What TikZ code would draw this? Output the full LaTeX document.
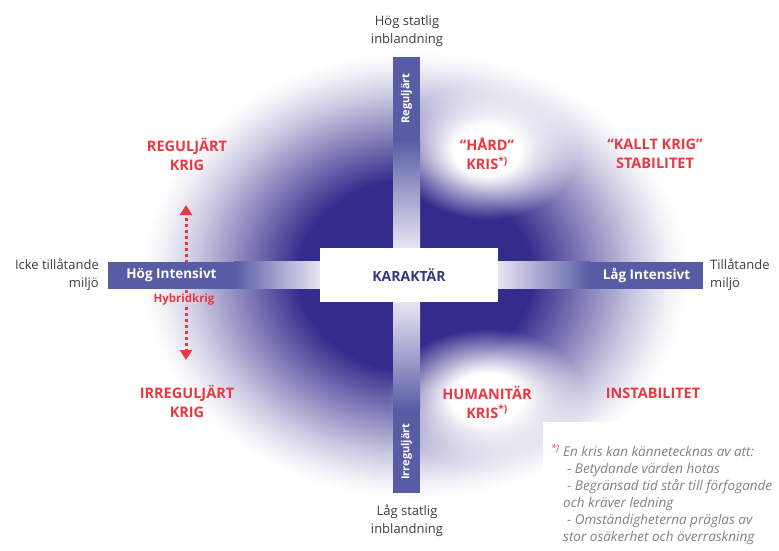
\documentclass[tikz,border=0pt]{standalone}
\usepackage{fontspec}
\setmainfont{Open Sans}
\usepackage{tikz}
\usetikzlibrary{positioning,arrows.meta,fadings}
\usepackage{xcolor}

\definecolor{cloudblue}{RGB}{52,44,140}
\definecolor{barblue}{RGB}{88,92,165}
\definecolor{barpale}{RGB}{232,230,243}
\definecolor{krigred}{RGB}{234,56,66}
\definecolor{axisgray}{RGB}{62,62,62}
\definecolor{notegray}{RGB}{130,130,130}
\definecolor{karblue}{RGB}{50,56,125}

\pgfdeclareradialshading{cloudshade}{\pgfpoint{0bp}{0bp}}{color(0bp)=(cloudblue); color(7.5bp)=(cloudblue); color(11.5bp)=(cloudblue!55!white); color(14.2bp)=(cloudblue!25!white); color(16.2bp)=(cloudblue!7!white); color(17.4bp)=(white); color(50bp)=(white)}
\pgfdeclareradialshading{spotshade}{\pgfpoint{0bp}{0bp}}{color(0bp)=(white); color(6bp)=(white); color(16.5bp)=(black); color(50bp)=(black)}
\tikzfading[name=spotfade, shading=spotshade]

\begin{document}
\begin{tikzpicture}[x=1pt, y=-1pt,
    bar/.style={fill=barblue, inner sep=0pt, text=white,
                font=\fontsize{13.5}{15}\selectfont\bfseries},
    barfade/.style={inner sep=0pt, draw=none},
    axislbl/.style={align=center, inner sep=0pt, text=axisgray,
                font=\fontsize{13}{18}\selectfont},
    krig/.style={align=center, inner sep=0pt, text=krigred,
                font=\fontsize{14.5}{19}\selectfont\bfseries},
    dotarr/.style={-{Triangle[length=10pt,width=12pt]}, krigred,
                line width=3pt, dash pattern=on 3pt off 3pt},
]
\useasboundingbox (0,0) rectangle (779,551);
\fill[white] (0,0) rectangle (779,551);

% ===== Background cloud =====
\shade[shading=cloudshade] (415,275) ellipse (390 and 320);
\fill[white, path fading=spotfade] (487,150) ellipse (140 and 105);
\fill[white, path fading=spotfade] (487,398) ellipse (150 and 105);

% ===== Hybrid arrow (behind the bar) =====
\node[font=\fontsize{11.5}{14}\selectfont\bfseries, text=krigred, inner sep=1pt] at (184,300) (hybrid) {Hybridkrig};
\coordinate (hybup) at (186,205);
\coordinate (hybdown) at (186,360);
\draw[dotarr] (hybup |- hybrid.north) -- (hybup);
\draw[dotarr] (hybdown |- hybrid.south) -- (hybdown);

% ===== Axis bars =====
\node[bar, minimum width=127, minimum height=27] at (171.5,275) (hogint) {Hög Intensivt};
\node[barfade, left color=barblue, middle color=barblue!35!barpale, right color=barpale,
      minimum width=86, minimum height=27] at (277,275) (hogfade) {};
\node[bar, minimum width=113, minimum height=27] at (646.5,275) (lagint) {Låg Intensivt};
\node[barfade, left color=barpale, middle color=barblue!35!barpale, right color=barblue,
      minimum width=93, minimum height=27] at (543.5,275) (lagfade) {};

\node[bar, rotate=90, minimum width=83, minimum height=27,
      font=\fontsize{11}{12}\selectfont\bfseries] at (406.5,98.5) (regbar) {Reguljärt};
\node[barfade, top color=barblue, middle color=barblue!35!barpale, bottom color=barpale,
      minimum width=27, minimum height=108] at (406.5,194) (regfade) {};
\node[bar, rotate=90, minimum width=83, minimum height=27,
      font=\fontsize{11}{12}\selectfont\bfseries] at (406.5,451.5) (irrbar) {Irreguljärt};
\node[barfade, top color=barpale, middle color=barblue!35!barpale, bottom color=barblue,
      minimum width=27, minimum height=108] at (406.5,356) (irrfade) {};

% ===== Centre box =====
\node[fill=white, minimum width=178, minimum height=54, text=karblue,
      font=\fontsize{14}{16}\selectfont\bfseries] at (409,275) (karak) {KARAKTÄR};

% ===== Axis end labels =====
\node[axislbl] at (407,31) (hogstat) {Hög statlig\\inblandning};
\node[axislbl] at (407,521) (lagstat) {Låg statlig\\inblandning};
\node[axislbl, align=right, anchor=east] at (99,275) (icke) {Icke tillåtande\\miljö};
\node[axislbl, align=left, anchor=west] at (710,275) (till) {Tillåtande\\miljö};

% ===== Quadrant labels =====
\node[krig] at (187,154) (regkrig) {REGULJÄRT\\KRIG};
\node[krig] at (187,401) (irrkrig) {IRREGULJÄRT\\KRIG};
\node[krig] at (487,154) (hard) {“HÅRD”\\KRIS\textsuperscript{*)}};
\node[krig] at (655,154) (kallt) {“KALLT KRIG”\\STABILITET};
\node[krig] at (487,402) (human) {HUMANITÄR\\KRIS\textsuperscript{*)}};
\node[krig] at (653,393) (instab) {INSTABILITET};

% ===== Footnote =====
\node[fill=white, minimum width=236, minimum height=129, anchor=north west,
      inner sep=0pt] at (543,422) (notebg) {};
\node[anchor=north west, inner sep=0pt, align=left, text=notegray,
      font=\fontsize{13.5}{17}\selectfont\itshape] at (551,444) (note)
     {\makebox[12pt][l]{\textcolor{krigred}{\textsuperscript{*)}}}En kris kan kännetecknas av att:\\
      \hspace*{16pt}- Betydande värden hotas\\
      \hspace*{16pt}- Begränsad tid står till förfogande\\
      \hspace*{12pt}och kräver ledning\\
      \hspace*{16pt}- Omständigheterna präglas av\\
      \hspace*{12pt}stor osäkerhet och överraskning};

\end{tikzpicture}
\end{document}
